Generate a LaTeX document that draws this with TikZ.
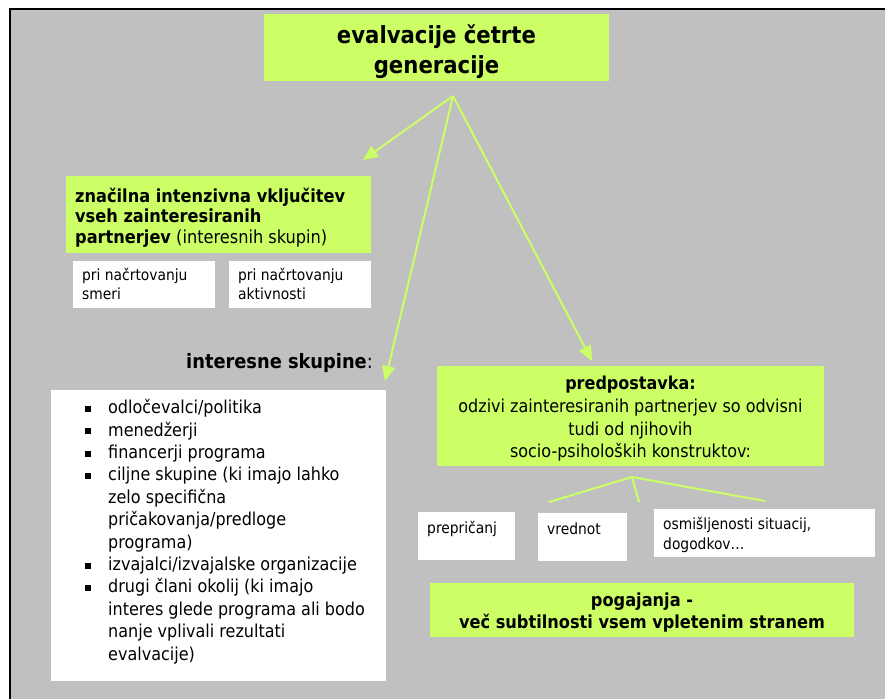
\documentclass[tikz,border=0pt]{standalone}
\usepackage{fontspec}
\setmainfont{DejaVu Sans Condensed}
\usetikzlibrary{arrows.meta}
\definecolor{lime}{HTML}{CCFF66}
\definecolor{bggray}{HTML}{C0C0C0}
\newcommand{\sqbullet}{\raisebox{1.8pt}{\rule{6pt}{6pt}}}
\begin{document}
\begin{tikzpicture}[x=1pt,y=-1pt,
  greenbox/.style={fill=lime, draw=none, inner sep=0pt},
  whitebox/.style={fill=white, draw=none, inner sep=0pt},
  txt/.style={inner sep=0pt, text=black},
  bigbold/.style={font=\bfseries\fontsize{23.6}{29.5}\selectfont},
  smallfont/.style={font=\fontsize{15.4}{18.5}\selectfont},
  conn/.style={draw=lime, line width=2pt, -{Triangle[length=15pt,width=13pt]}},
  twig/.style={draw=lime, line width=2pt}]
\useasboundingbox (0,0) rectangle (885,699);
\fill[white] (0,0) rectangle (885,699);
\fill[bggray] (10,9) rectangle (885,699);
\draw[line width=2pt] (10,699) -- (10,9) -- (885,9);

% title
\node[greenbox, minimum width=345pt, minimum height=67pt] (title) at (436.5,47.5) {};
\node[txt, bigbold, align=center, anchor=base] (titleT) at (436.5,73) {evalvacije četrte\\generacije};

% partners box
\node[greenbox, minimum width=305pt, minimum height=77pt] (part) at (218.5,214.5) {};
\node[txt, font=\fontsize{18}{20.5}\selectfont, align=left, anchor=base west] (partT) at (75,243)
  {\textbf{značilna intenzivna vključitev}\\\textbf{vseh zainteresiranih}\\\textbf{partnerjev} (interesnih skupin)};

\node[whitebox, minimum width=142pt, minimum height=47pt] (smeri) at (144,284.5) {};
\node[txt, smallfont, align=left, anchor=base west] (smeriT) at (82,299) {pri načrtovanju\\smeri};
\node[whitebox, minimum width=142pt, minimum height=47pt] (aktiv) at (300,284.5) {};
\node[txt, smallfont, align=left, anchor=base west] (aktivT) at (238,299) {pri načrtovanju\\aktivnosti};

% interest groups
\node[txt, font=\fontsize{19.8}{22}\selectfont, anchor=base east] (isk) at (373,368) {\textbf{interesne skupine}:};
\node[whitebox, minimum width=335pt, minimum height=291pt] (list) at (218.5,535.5) {};
\node[txt, font=\fontsize{17.8}{22.4}\selectfont, align=left, anchor=base west] (listT) at (85,660)
  {\makebox[23pt][l]{\sqbullet}odločevalci/politika\\
   \makebox[23pt][l]{\sqbullet}menedžerji\\
   \makebox[23pt][l]{\sqbullet}financerji programa\\
   \makebox[23pt][l]{\sqbullet}ciljne skupine (ki imajo lahko\\
   \hspace*{23pt}zelo specifična\\
   \hspace*{23pt}pričakovanja/predloge\\
   \hspace*{23pt}programa)\\
   \makebox[23pt][l]{\sqbullet}izvajalci/izvajalske organizacije\\
   \makebox[23pt][l]{\sqbullet}drugi člani okolij (ki imajo\\
   \hspace*{23pt}interes glede programa ali bodo\\
   \hspace*{23pt}nanje vplivali rezultati\\
   \hspace*{23pt}evalvacije)};

% assumption
\node[greenbox, minimum width=387pt, minimum height=100pt] (pred) at (630.5,416) {};
\node[txt, font=\fontsize{17.8}{22.6}\selectfont, align=center, anchor=base] (predT) at (630.5,457.7)
  {\textbf{predpostavka:}\\odzivi zainteresiranih partnerjev so odvisni\\tudi od njihovih\\socio-psiholoških konstruktov:};

\node[whitebox, minimum width=97pt, minimum height=48pt] (prep) at (466.5,536) {};
\node[txt, smallfont, anchor=base west] (prepT) at (427,533) {prepričanj};
\node[whitebox, minimum width=89pt, minimum height=48pt] (vred) at (582.5,537) {};
\node[txt, smallfont, anchor=base west] (vredT) at (547,534) {vrednot};
\node[whitebox, minimum width=221pt, minimum height=48pt] (osm) at (764.5,533) {};
\begin{scope}
\clip (654,509) rectangle (875,557);
\node[txt, font=\fontsize{15.4}{20}\selectfont, align=left, anchor=base west] (osmT) at (663,549) {osmišljenosti situacij,\\dogodkov…};
\end{scope}

% negotiation
\node[greenbox, minimum width=424pt, minimum height=54pt] (pog) at (642,610) {};
\node[txt, font=\bfseries\fontsize{18}{21.5}\selectfont, align=center, anchor=base] (pogT) at (642,628)
  {pogajanja -\\več subtilnosti vsem vpletenim stranem};

% connectors
\coordinate (src) at (453,96);
\coordinate (tipA) at (363,160);
\coordinate (tipB) at (385,381);
\coordinate (tipC) at (592,361);
\draw[conn] (src) -- (tipA);
\draw[conn] (src) -- (tipB);
\draw[conn] (src) -- (tipC);

\coordinate (fork) at (632,477);
\coordinate (f1) at (549,502);
\coordinate (f2) at (639,502);
\coordinate (f3) at (765,501);
\draw[twig] (f1) -- (fork) -- (f3);
\draw[twig] (fork) -- (f2);
\end{tikzpicture}
\end{document}
